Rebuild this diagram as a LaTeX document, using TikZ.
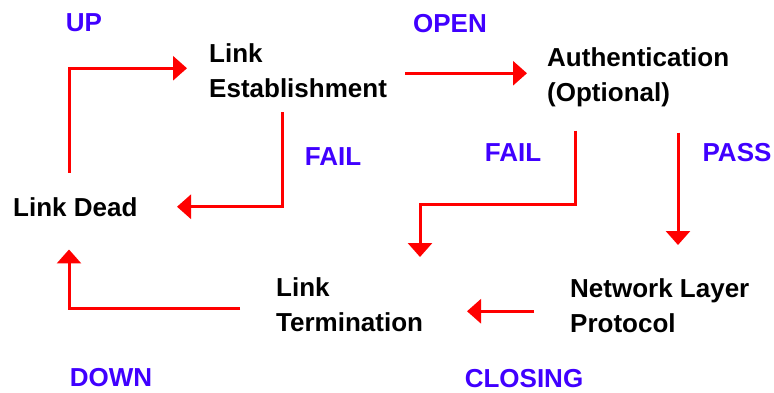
\documentclass[tikz,border=0pt]{standalone}
\usepackage{fontspec}
\setmainfont{Liberation Sans}
\usetikzlibrary{arrows.meta}
\definecolor{lblblue}{RGB}{64,0,255}
\definecolor{arrred}{RGB}{255,0,0}
\tikzset{
  state/.style={anchor=north west, inner sep=0pt, align=left, text=black,
    font=\fontsize{26}{35}\selectfont\bfseries},
  lbl/.style={inner sep=0pt, text=lblblue, font=\fontsize{26}{35}\selectfont\bfseries},
  arr/.style={draw=arrred, line width=3pt, -{Triangle[length=14pt,width=24pt]}, fill=none},
}
\begin{document}
\begin{tikzpicture}[x=1pt,y=-1pt]
\useasboundingbox (0,0) rectangle (774,393);
\fill[white] (0,0) rectangle (774,393);
% states
\node[state] (est) at (209,43) {Link\\Establishment};
\node[state] (auth) at (547,47) {Authentication\\(Optional)};
\node[state] (dead) at (13,197) {Link Dead};
\node[state] (term) at (276,277) {Link\\Termination};
\node[state] (net) at (570,278) {Network Layer\\Protocol};
% labels
\node[lbl] (up) at (84,23) {UP};
\node[lbl] (open) at (450,24) {OPEN};
\node[lbl] (fail1) at (333,157) {FAIL};
\node[lbl] (fail2) at (513,153) {FAIL};
\node[lbl] (pass) at (737,153) {PASS};
\node[lbl] (down) at (111,378) {DOWN};
\node[lbl] (closing) at (524,379) {CLOSING};
% helper coordinates
\coordinate (oA) at ([xshift=196pt,yshift=-3pt]est.west);
\coordinate (oB) at ([xshift=-20pt]auth.west);
\coordinate (pA) at ([xshift=131pt,yshift=-26pt]auth.south west);
\coordinate (pB) at ([yshift=33pt]net.north);
\coordinate (cA) at ([xshift=-36pt,yshift=-6pt]net.west);
\coordinate (cB) at ([xshift=191pt]term.south west);
% connectors
\draw[arr] ([xshift=56pt,yshift=24pt]dead.north west) |- ([xshift=-22pt,yshift=2pt]est.west);
\draw[arr] (oA) -- (oA -| oB);
\draw[arr] ([xshift=73pt,yshift=-15pt]est.south west) |- ([xshift=164pt]dead.west);
\draw[arr] ([xshift=28pt,yshift=-24pt]auth.south west) -- ++(0,74) -| ([xshift=144pt,yshift=20pt]term.north west);
\draw[arr] (pA) -- (pA |- pB);
\draw[arr] (cA) -- (cA -| cB);
\draw[arr] ([xshift=-36pt,yshift=-4pt]term.west) -| ([xshift=56pt,yshift=-33pt]dead.south west);
\end{tikzpicture}
\end{document}
